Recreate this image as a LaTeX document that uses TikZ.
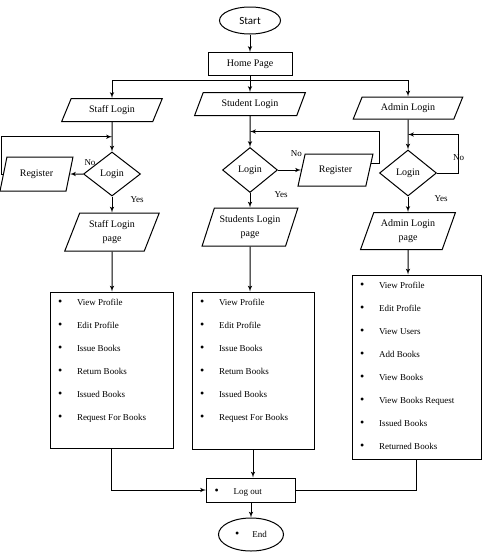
\documentclass[tikz,border=0pt]{standalone}
\usepackage{fontspec}
\setmainfont{Liberation Serif}
\newfontfamily\startfont{Carlito}
\usetikzlibrary{shapes,arrows,calc}
\tikzstyle{terminal} = [draw, ellipse, line width=1pt, inner sep=0pt]
\tikzstyle{block} = [rectangle, draw, line width=1pt, text centered, inner sep=0pt]
\tikzstyle{io} = [trapezium, trapezium left angle=66, trapezium right angle=114, trapezium stretches=true, draw, line width=1pt, inner sep=0pt, align=center, font=\fontsize{10}{14.5}\selectfont]
\tikzstyle{iohead} = [io, trapezium left angle=60, trapezium right angle=120]
\tikzstyle{decision} = [diamond, draw, line width=1pt, inner sep=0pt]
\tikzstyle{listbox} = [rectangle, draw, line width=1pt, inner sep=3pt, font=\fontsize{9}{23}\selectfont]
\tikzstyle{line} = [draw, line width=1pt, -latex']
\tikzstyle{wire} = [draw, line width=1pt]
\tikzstyle{lbl} = [inner sep=1pt, font=\fontsize{9}{10}\selectfont]
\newcommand{\dotmark}{{\fontsize{12}{12}\selectfont\textbullet}}
\newcommand{\itm}{\rule{0pt}{10pt}\hspace*{5pt}\makebox[19pt][l]{\dotmark}}

\begin{document}
\begin{tikzpicture}[x=1pt, y=-1pt, node distance=64pt, font=\fontsize{10}{12}\selectfont]

\useasboundingbox (0,0) rectangle (482,557);

\node[terminal, minimum width=61pt, minimum height=27pt, font=\startfont\fontsize{11}{13}\selectfont](start) at (250,20.5){Start};
\node[block, below of=start, node distance=43.5pt, minimum width=84pt, minimum height=23pt](home){Home Page};
\path [line] (start) -- (home);

% staff side
\node[iohead, minimum width=101pt, minimum height=23pt](slogin) at (112,110){Staff Login};
\path [line] (home.south) -- ++(0,4.5) -| (slogin.north);
\node[decision, below of=slogin, minimum width=57pt, minimum height=44pt](sdia){Login};
\coordinate (sjoin) at ($(slogin.south)!0.5!(sdia.north)$);
\path [line] (slogin) -- (sdia);
\node[io, left of=sdia, node distance=75.5pt, minimum width=73pt, minimum height=34pt](sreg){Register};
\path [line] (sdia) -- node[lbl, pos=0, above=7pt, xshift=7pt]{No} (sreg);
\path [line] (sreg.left side) -- (sreg.left side -| 1.5,0) |- (sjoin);
\node[io, below of=sdia, node distance=58pt, minimum width=95pt, minimum height=38pt](spage){Staff Login\\page};
\path [line] (sdia) -- node[lbl, pos=0.2, right=17pt]{Yes} (spage);

% student side
\node[iohead, minimum width=111pt, minimum height=23pt](stulogin) at (250,104){Student Login};
\path [line] (home) -- (stulogin);
\node[decision, below of=stulogin, node distance=66pt, minimum width=55pt, minimum height=45pt](studia){Login};
\coordinate (stujoin) at ($(stulogin.south)!0.5!(studia.north)$);
\path [line] (stulogin) -- (studia);
\node[io, right of=studia, node distance=85.5pt, minimum width=75pt, minimum height=32pt](stureg){Register};
\path [line] (studia) -- node[lbl, pos=0.8, above=12pt]{No} (stureg);
\path [line] ($(stureg.top right corner)!0.3!(stureg.bottom right corner)$) -- ++(8,0) |- (stujoin);
\node[io, below of=studia, node distance=57pt, minimum width=96pt, minimum height=38pt](stupage){Students Login\\page};
\path [line] (studia) -- node[lbl, pos=0.1, right=23pt]{Yes} (stupage);

% admin side
\node[iohead, minimum width=110pt, minimum height=22pt](alogin) at (408,108){Admin Login};
\path [line] (home.south) -- ++(0,4.5) -| (alogin.north);
\node[decision, below of=alogin, node distance=65pt, minimum width=57pt, minimum height=46pt](adia){Login};
\coordinate (ajoin) at ($(alogin.south)!0.5!(adia.north)$);
\path [line] (alogin) -- (adia);
\path [line] (adia.east) -- ++(21.5,0) |- node[lbl, pos=0.2]{No} (ajoin);
\node[io, below of=adia, node distance=58pt, minimum width=95pt, minimum height=37pt](apage){Admin Login\\page};
\path [line] (adia) -- node[lbl, pos=0.15, right=25pt]{Yes} (apage);

% menus
\node[listbox](sbox) at (111.5,370){\parbox[c][150pt][t]{117pt}{\itm View Profile\\ \itm Edit Profile\\ \itm Issue Books\\ \itm Return Books\\ \itm Issued Books\\ \itm Request For Books}};
\path [line] (spage) -- (spage |- sbox.north);
\node[listbox](stubox) at (253,370.5){\parbox[c][151pt][t]{116pt}{\itm View Profile\\ \itm Edit Profile\\ \itm Issue Books\\ \itm Return Books\\ \itm Issued Books\\ \itm Request For Books}};
\path [line] (stupage) -- (stupage |- stubox.north);
\node[listbox](abox) at (416.5,367){\parbox[c][178pt][t]{123pt}{\itm View Profile\\ \itm Edit Profile\\ \itm View Users\\ \itm Add Books\\ \itm View Books\\ \itm View Books Request\\ \itm Issued Books\\ \itm Returned Books}};
\path [line] (apage) -- (apage |- abox.north);

% logout
\node[listbox, minimum height=24pt](logout) at (251,490){\parbox{83pt}{\itm Log out}};
\path [line] (sbox) |- (logout);
\path [line] (stubox) -- (stubox |- logout.north);
\path [wire] (abox) |- (logout);
\node[terminal, below of=logout, node distance=44.5pt, minimum width=65pt, minimum height=33pt, font=\fontsize{9}{10}\selectfont](end){\dotmark\hspace{13pt}End};
\path [line] (logout) -- (end);

\end{tikzpicture}
\end{document}
